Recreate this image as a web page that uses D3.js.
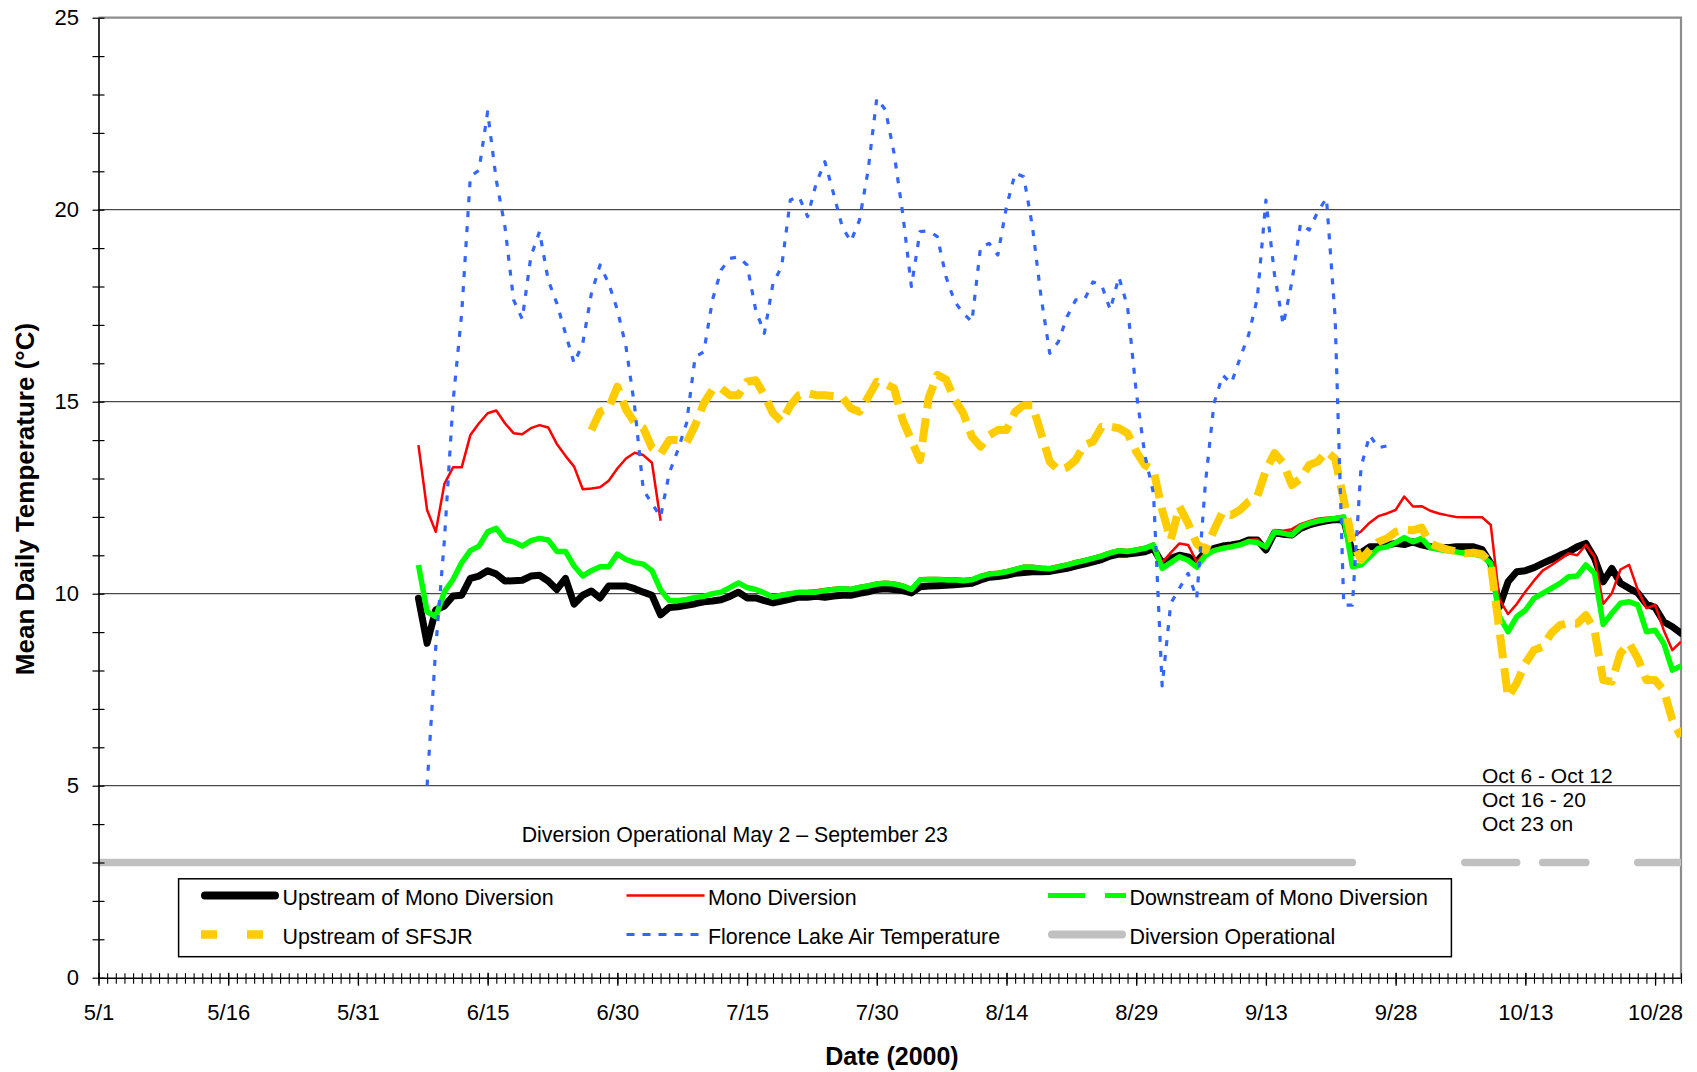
<!DOCTYPE html>
<html>
<head>
<meta charset="utf-8">
<script src="https://cdn.jsdelivr.net/npm/d3@7"></script>
<style>
  body { margin: 0; background: #ffffff; }
  svg text { font-family: "Liberation Sans", Arial, sans-serif; fill: #000; }
</style>
</head>
<body>
<div id="viz_container"></div>
<script>
// axis ticks
const xTickLabels = ["5/1","5/16","5/31","6/15","6/30","7/15","7/30","8/14","8/29","9/13","9/28","10/13","10/28"];
const xRange = ["5/1","10/31"];
const yTickLabels = [0,5,10,15,20,25];

// daily mean temperatures (deg C), one value per day from the start date
const upstreamMonoStart = "6/7";
const upstreamMono = [
  9.88,8.71,9.58,9.68,9.94,9.96,10.4,10.46,10.6,10.51,10.33,10.34,10.35,10.46,10.48,10.33,10.11,10.4,9.73,9.96,
  10.07,9.89,10.2,10.2,10.2,10.13,10.04,9.96,9.45,9.64,9.66,9.7,9.74,9.79,9.81,9.84,9.93,10.04,9.89,9.89,
  9.82,9.76,9.81,9.86,9.91,9.91,9.93,
  9.91,9.94,9.96,9.96,10.01,10.05,10.11,10.13,10.11,10.08,10.02,10.18,10.2,10.21,10.22,10.23,10.25,10.27,10.36,10.43,
  10.45,10.48,10.53,10.55,10.57,10.57,10.58,10.62,10.66,10.72,10.77,10.83,10.89,10.98,11.03,11.03,11.06,11.09,11.18,10.79,
  10.92,11.0,10.96,10.83,11.09,11.18,11.24,11.27,11.31,11.4,
  11.4,11.14,11.59,11.55,11.53,11.7,11.79,11.85,11.9,11.93,11.92,11.07,11.07,11.22,11.22,11.27,11.31,11.28,11.35,11.27,
  11.22,11.2,11.2,11.22,11.22,11.22,11.15,10.79,9.66,10.31,10.57,10.6,10.68,10.79,10.89,11.0,11.09,11.22,11.31,10.92,
  10.31,10.66,10.27,10.14,10.02,9.73,9.64,9.27,9.14,8.97
];

const monoDiversionStart = "6/7";
const monoDiversion = [
  13.87,12.18,11.61,12.86,13.29,13.29,14.13,14.44,14.7,14.77,14.44,14.18,14.15,14.31,14.39,14.33,13.9,13.59,13.31,12.72,
  12.74,12.77,12.94,13.26,13.52,13.67,13.61,13.41,11.9,
  null,null,null,null,null,null,null,null,null,null,null,null,
  9.95,10.0,10.03,10.06,10.07,10.09,
  10.12,10.15,10.17,10.15,10.2,10.24,10.29,10.31,10.29,10.24,10.15,10.4,10.41,10.41,10.4,10.4,10.38,10.4,10.49,10.55,
  10.57,10.61,10.67,10.73,10.73,10.7,10.69,10.74,10.79,10.85,10.9,10.96,11.02,11.1,11.16,11.14,11.18,11.22,11.31,10.81,
  11.07,11.31,11.27,10.83,11.07,11.16,11.22,11.26,11.31,11.4,
  11.42,11.18,11.66,11.64,11.68,11.81,11.89,11.95,11.98,12.0,12.03,11.47,11.62,11.85,12.02,12.09,12.18,12.53,12.27,12.28,
  12.16,12.09,12.04,12.0,11.99,11.99,11.99,11.79,9.85,9.47,9.73,10.05,10.34,10.6,10.74,10.89,11.05,11.0,11.27,10.96,
  9.73,10.01,10.63,10.75,10.1,9.62,9.71,9.05,8.53,8.75
];

const downstreamMonoStart = "6/7";
const downstreamMono = [
  10.75,9.53,9.4,10.05,10.37,10.81,11.12,11.24,11.61,11.7,11.41,11.35,11.24,11.38,11.44,11.4,11.1,11.1,10.72,10.46,
  10.6,10.7,10.7,11.03,10.89,10.81,10.77,10.6,10.1,9.82,9.82,9.85,9.9,9.93,10.0,10.04,10.16,10.28,10.16,10.11,
  10.02,9.91,9.96,10.0,10.04,10.04,10.04,
  10.08,10.11,10.13,10.11,10.16,10.2,10.25,10.27,10.25,10.2,10.11,10.36,10.37,10.37,10.36,10.36,10.34,10.36,10.45,10.51,
  10.53,10.57,10.63,10.69,10.69,10.66,10.65,10.7,10.75,10.81,10.86,10.92,10.98,11.06,11.12,11.1,11.14,11.18,11.27,10.66,
  10.81,10.96,10.87,10.69,11.0,11.12,11.18,11.22,11.27,11.36,
  11.33,11.22,11.61,11.57,11.53,11.74,11.83,11.89,11.93,11.96,12.0,10.7,10.75,10.96,11.18,11.22,11.33,11.46,11.35,11.44,
  11.2,11.15,11.12,11.09,11.05,11.03,10.98,10.79,9.4,9.01,9.4,9.57,9.88,10.01,10.14,10.27,10.44,10.46,10.75,10.53,
  9.2,9.49,9.75,9.79,9.71,9.01,9.05,8.71,8.01,8.12
];

const sfsjrStart = "6/27";
const sfsjr = [
  14.26,14.74,14.83,15.39,14.8,14.45,14.31,13.8,13.64,14.0,
  14.0,13.93,14.39,14.96,15.31,15.35,15.17,15.17,15.52,15.56,
  15.17,14.7,14.48,14.9,15.17,15.22,15.17,15.17,15.14,15.12,
  14.83,14.74,15.12,15.52,15.46,15.35,14.52,14.0,13.48,15.1,
  15.7,15.58,15.06,14.7,14.09,13.83,14.13,14.26,14.26,14.74,
  14.91,14.91,14.18,13.44,13.22,13.29,13.48,13.87,13.96,14.35,
  14.35,14.31,14.18,13.7,13.35,13.22,12.18,11.4,12.27,11.83,
  11.3,11.13,11.66,12.13,12.05,12.18,12.4,12.53,13.22,13.66,
  13.4,12.83,13.0,13.35,13.44,13.7,13.52,12.44,11.35,10.88,
  11.14,11.35,11.44,11.61,11.67,11.65,11.72,11.31,11.22,11.15,
  11.1,11.05,11.07,11.03,10.79,9.05,7.3,7.67,8.19,8.53,
  8.62,8.97,9.18,9.24,9.22,9.44,9.05,7.75,7.71,8.45,
  8.71,8.32,7.75,7.75,7.49,6.71,6.28
];

const airTempStart = "6/8";
const airTemp = [
  5.0,8.6,11.4,15.0,17.3,20.86,21.03,22.55,20.77,19.56,
  17.65,17.15,18.78,19.43,18.17,17.56,16.78,16.0,16.52,17.82,
  18.56,18.08,17.39,16.43,14.87,12.7,12.35,12.0,13.14,13.74,
  14.44,16.17,16.3,17.65,18.43,18.73,18.77,18.56,17.39,16.78,
  18.08,18.52,20.25,20.34,19.82,20.69,21.25,20.42,19.56,19.17,
  19.73,21.03,22.9,22.6,21.47,19.9,18.0,19.43,19.45,19.3,
  18.26,17.61,17.3,17.08,19.03,19.12,18.82,20.08,20.95,20.86,
  19.56,17.73,16.26,16.56,17.21,17.65,17.65,18.12,18.04,17.39,
  18.25,17.47,15.26,13.61,12.61,7.6,9.75,10.14,10.53,9.88,
  12.87,14.96,15.69,15.48,16.13,16.74,17.69,20.25,18.3,17.0,
  18.12,19.64,19.47,19.95,20.3,17.21,9.7,9.7,13.3,14.13,
  13.8,13.85
];

// diversion operational periods, drawn at 3 deg C
const diversionPeriods = [["5/1","9/23"],["10/6","10/12"],["10/15","10/20"],["10/26","10/31"]];
const diversionLevel = 3;
const diversionNote = "Diversion Operational May 2 \u2013 September 23";
const octNotes = ["Oct 6 - Oct 12","Oct 16 - 20","Oct 23 on"];

var createChart = () => {
  // set svg parameters
  const width = 1697,
  height = 1072;
  const margin = {top: 17.7, right: 16, bottom: 94.3, left: 98.5};

  const svg = d3.select("#viz_container")
    .append("svg")
    .attr("width", width)
    .attr("height", height);

  const parse = s => {
    const [m, d] = s.split("/").map(Number);
    return new Date(Date.UTC(2000, m - 1, d));
  };

  //scales
  const x = d3.scaleUtc()
    .domain(xRange.map(parse))
    .range([margin.left, width - margin.right]);
  const y = d3.scaleLinear()
    .domain([0, 25])
    .range([height - margin.bottom, margin.top]);

  const x0 = x.range()[0], x1 = x.range()[1];
  const yBottom = y(0), yTop = y(25);

  //clip marks to the plot area
  svg.append("clipPath")
    .attr("id", "plot-clip")
    .append("rect")
    .attr("x", x0)
    .attr("y", yTop)
    .attr("width", x1 - x0)
    .attr("height", yBottom - yTop);

  //gridlines
  svg.append("g")
    .selectAll("line")
    .data([5, 10, 15, 20])
    .join("line")
    .attr("x1", x0).attr("x2", x1)
    .attr("y1", d => y(d)).attr("y2", d => y(d))
    .attr("stroke", "#4a4a4a")
    .attr("stroke-width", 1.3);

  //plot border (top and right)
  svg.append("path")
    .attr("d", `M${x0},${yTop}H${x1}V${yBottom}`)
    .attr("fill", "none")
    .attr("stroke", "#8c8c8c")
    .attr("stroke-width", 2.2);

  //build series points
  const toPoints = (start, values) => values.map((v, i) => ({date: d3.utcDay.offset(parse(start), i), v: v}));

  const line = d3.line()
    .defined(d => d.v != null)
    .x(d => x(d.date))
    .y(d => y(d.v));

  const series = [
    {name: "Upstream of Mono Diversion", pts: toPoints(upstreamMonoStart, upstreamMono), color: "#000000", width: 7, dash: null, legendWidth: 8, legendDash: null, cap: "round"},
    {name: "Mono Diversion", pts: toPoints(monoDiversionStart, monoDiversion), color: "#ff0000", width: 2.5, dash: null, legendWidth: 2.6, legendDash: null, cap: "butt"},
    {name: "Downstream of Mono Diversion", pts: toPoints(downstreamMonoStart, downstreamMono), color: "#00ff00", width: 5.5, dash: null, legendWidth: 5, legendDash: "37,20", cap: "butt"},
    {name: "Upstream of SFSJR", pts: toPoints(sfsjrStart, sfsjr), color: "#ffcc00", width: 8, dash: "24,10", legendWidth: 8.3, legendDash: "16,30", cap: "butt"},
    {name: "Florence Lake Air Temperature", pts: toPoints(airTempStart, airTemp), color: "#3366ff", width: 3.2, dash: "6,9", legendWidth: 3.2, legendDash: "8,8", cap: "butt"},
    {name: "Diversion Operational", pts: null, color: "#c0c0c0", width: 7.5, dash: null, legendWidth: 8, legendDash: null, cap: "round"}
  ];

  //draw lines
  const lines = svg.append("g").attr("clip-path", "url(#plot-clip)");
  series.filter(s => s.pts).forEach(s => {
    lines.append("path")
      .datum(s.pts)
      .attr("d", line)
      .attr("fill", "none")
      .attr("stroke", s.color)
      .attr("stroke-width", s.width)
      .attr("stroke-dasharray", s.dash)
      .attr("stroke-linejoin", "round")
      .attr("stroke-linecap", s.cap === "round" ? "round" : "butt");
  });

  //diversion operational bar
  svg.append("g")
    .attr("clip-path", "url(#plot-clip)")
    .selectAll("line")
    .data(diversionPeriods)
    .join("line")
    .attr("x1", d => x(parse(d[0])))
    .attr("x2", d => x(parse(d[1])))
    .attr("y1", y(diversionLevel))
    .attr("y2", y(diversionLevel))
    .attr("stroke", "#c0c0c0")
    .attr("stroke-width", 7.5)
    .attr("stroke-linecap", "round");

  //x axis: daily minor ticks
  const minorAxis = svg.append("g")
    .attr("transform", `translate(0,${yBottom})`)
    .call(d3.axisBottom(x)
      .tickValues(d3.utcDay.range(parse(xRange[0]), d3.utcDay.offset(parse(xRange[1]), 1)))
      .tickSize(6)
      .tickSizeOuter(0)
      .tickFormat(""));
  minorAxis.select(".domain").remove();
  minorAxis.selectAll(".tick line").attr("y1", -4.5).attr("stroke", "#000").attr("stroke-width", 1.1);

  //x axis: labelled ticks
  const majorAxis = svg.append("g")
    .attr("transform", `translate(0,${yBottom})`)
    .call(d3.axisBottom(x)
      .tickValues(xTickLabels.map(parse))
      .tickSize(8)
      .tickSizeOuter(0)
      .tickFormat((d, i) => xTickLabels[i]));
  majorAxis.select(".domain").attr("stroke", "#000").attr("stroke-width", 1.6);
  majorAxis.selectAll(".tick line").attr("y1", -5).attr("stroke", "#000").attr("stroke-width", 1.3);
  majorAxis.selectAll(".tick text")
    .attr("y", 42.3)
    .attr("dy", null)
    .style("font-size", "22px")
    .style("font-family", "'Liberation Sans', Arial, sans-serif");

  //y axis
  const yAxis = svg.append("g")
    .attr("transform", `translate(${x0},0)`)
    .call(d3.axisLeft(y)
      .tickValues(d3.range(0, 26))
      .tickSize(6)
      .tickSizeOuter(0)
      .tickPadding(13.5)
      .tickFormat(d => yTickLabels.includes(d) ? d : ""));
  yAxis.select(".domain").attr("stroke", "#000").attr("stroke-width", 1.6);
  yAxis.selectAll(".tick line").attr("x1", 6).attr("stroke", "#000").attr("stroke-width", 1.2);
  yAxis.selectAll(".tick text")
    .style("font-size", "22px")
    .style("font-family", "'Liberation Sans', Arial, sans-serif");

  //axis titles
  svg.append("text")
    .attr("transform", "translate(34,499) rotate(-90)")
    .attr("text-anchor", "middle")
    .style("font-size", "26px")
    .style("font-weight", "bold")
    .text("Mean Daily Temperature (\u00B0C)");
  svg.append("text")
    .attr("x", 892)
    .attr("y", 1065)
    .attr("text-anchor", "middle")
    .style("font-size", "25px")
    .style("font-weight", "bold")
    .text("Date (2000)");

  //notes
  svg.append("text")
    .attr("x", 521.7)
    .attr("y", 842)
    .style("font-size", "21.3px")
    .text(diversionNote);
  svg.append("g")
    .selectAll("text")
    .data(octNotes)
    .join("text")
    .attr("x", 1482)
    .attr("y", (d, i) => 783 + i * 24)
    .style("font-size", "21px")
    .text(d => d);

  //legend
  const legend = svg.append("g");
  legend.append("rect")
    .attr("x", 178.6)
    .attr("y", 878.8)
    .attr("width", 1272.8)
    .attr("height", 77.9)
    .attr("fill", "#fff")
    .attr("stroke", "#000")
    .attr("stroke-width", 1.5);

  const colX = [201, 626.5, 1048];
  const colW = 78;
  const rowY = [895.5, 934.5];
  series.forEach((s, i) => {
    const col = i % 3, row = Math.floor(i / 3);
    const inset = s.cap === "round" ? s.legendWidth / 2 : 0;
    legend.append("line")
      .attr("x1", colX[col] + inset)
      .attr("x2", colX[col] + colW - inset)
      .attr("y1", rowY[row])
      .attr("y2", rowY[row])
      .attr("stroke", s.color)
      .attr("stroke-width", s.legendWidth)
      .attr("stroke-dasharray", s.legendDash)
      .attr("stroke-linecap", s.cap);
    legend.append("text")
      .attr("x", colX[col] + colW + 3.5)
      .attr("y", rowY[row] + 9.5)
      .style("font-size", "21.4px")
      .text(s.name);
  });
};

createChart();
</script>
</body>
</html>
